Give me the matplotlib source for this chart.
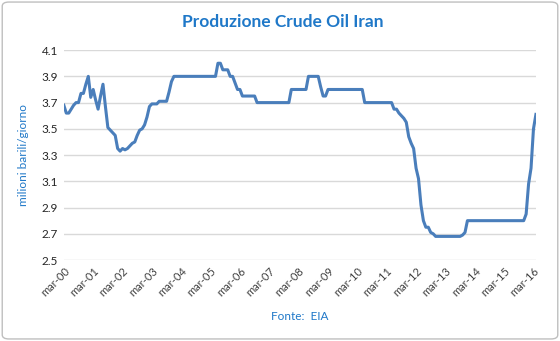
import matplotlib.pyplot as plt
from matplotlib.patches import FancyBboxPatch

# produzione mensile (milioni barili/giorno), da mar-2000 ad apr-2016
produzione = [
    3.68, 3.62, 3.62, 3.65, 3.68, 3.70, 3.70, 3.77, 3.77, 3.84, 3.90, 3.74,  # mar-00
    3.80, 3.72, 3.65, 3.75, 3.84, 3.67, 3.51, 3.49, 3.47, 3.45, 3.35, 3.33,  # mar-01
    3.35, 3.34, 3.35, 3.37, 3.39, 3.40, 3.45, 3.49, 3.50, 3.53, 3.59, 3.67,  # mar-02
    3.69, 3.69, 3.69, 3.71, 3.71, 3.71, 3.71, 3.78, 3.86, 3.90, 3.90, 3.90,  # mar-03
    3.90, 3.90, 3.90, 3.90, 3.90, 3.90, 3.90, 3.90, 3.90, 3.90, 3.90, 3.90,  # mar-04
    3.90, 3.90, 3.90, 4.00, 4.00, 3.95, 3.95, 3.95, 3.90, 3.90, 3.85, 3.80,  # mar-05
    3.80, 3.75, 3.75, 3.75, 3.75, 3.75, 3.75, 3.70, 3.70, 3.70, 3.70, 3.70,  # mar-06
    3.70, 3.70, 3.70, 3.70, 3.70, 3.70, 3.70, 3.70, 3.70, 3.80, 3.80, 3.80,  # mar-07
    3.80, 3.80, 3.80, 3.80, 3.90, 3.90, 3.90, 3.90, 3.90, 3.82, 3.75, 3.75,  # mar-08
    3.80, 3.80, 3.80, 3.80, 3.80, 3.80, 3.80, 3.80, 3.80, 3.80, 3.80, 3.80,  # mar-09
    3.80, 3.80, 3.80, 3.70, 3.70, 3.70, 3.70, 3.70, 3.70, 3.70, 3.70, 3.70,  # mar-10
    3.70, 3.70, 3.70, 3.65, 3.65, 3.62, 3.60, 3.58, 3.55, 3.44, 3.39, 3.35,  # mar-11
    3.20, 3.12, 2.92, 2.80, 2.75, 2.75, 2.71, 2.70, 2.68, 2.68, 2.68, 2.68,  # mar-12
    2.68, 2.68, 2.68, 2.68, 2.68, 2.68, 2.68, 2.69, 2.71, 2.80, 2.80, 2.80,  # mar-13
    2.80, 2.80, 2.80, 2.80, 2.80, 2.80, 2.80, 2.80, 2.80, 2.80, 2.80, 2.80,  # mar-14
    2.80, 2.80, 2.80, 2.80, 2.80, 2.80, 2.80, 2.80, 2.80, 2.85, 3.08, 3.20,  # mar-15
    3.50, 3.61,                                                              # mar-16
]
etichette_anni = ["mar-%02d" % a for a in range(0, 17)]
y_ticks = [2.5, 2.7, 2.9, 3.1, 3.3, 3.5, 3.7, 3.9, 4.1]

plt.rcParams['font.family'] = ['Lato', 'DejaVu Sans']
blu_testo = '#1F78C8'

fig = plt.figure(figsize=(5.6, 3.41), dpi=100)
ax = fig.add_axes([0.114, 0.2375, 0.843, 0.6155])

mesi = list(range(len(produzione)))
ax.plot(mesi, produzione, color='#4A7EBB', linewidth=2.2, solid_joinstyle='round')

ax.set_xlim(0, len(produzione) - 1)
ax.set_ylim(2.5, 4.1)
ax.set_yticks(y_ticks)
ax.set_yticklabels(["%.1f" % v for v in y_ticks], fontsize=8.5, color='#262626')
ax.set_xticks(range(0, len(produzione), 12))
ax.set_xticklabels(etichette_anni, rotation=45, ha='right', rotation_mode='anchor',
                   fontsize=8, color='#404040')
ax.tick_params(axis='both', length=0, pad=4)
ax.grid(axis='y', color='#D9D9D9', linewidth=1)
ax.set_axisbelow(True)
for s in ax.spines.values():
    s.set_visible(False)

ax.set_ylabel("milioni barili/giorno", color=blu_testo, fontsize=8.5, labelpad=9)
fig.text(0.505, 0.935, "Produzione Crude Oil Iran", ha='center', va='center',
         fontsize=12.5, fontweight='bold', color=blu_testo)
fig.text(0.535, 0.073, "Fonte:  EIA", ha='center', va='center', fontsize=8.5, color=blu_testo)

# cornice esterna arrotondata
cornice = FancyBboxPatch((0.004, 0.006), 0.992, 0.988, boxstyle="round,pad=0,rounding_size=0.012",
                         transform=fig.transFigure, facecolor='none', edgecolor='#BFBFBF', linewidth=1)
fig.patches.append(cornice)

fig.savefig("out.png", dpi=100)
